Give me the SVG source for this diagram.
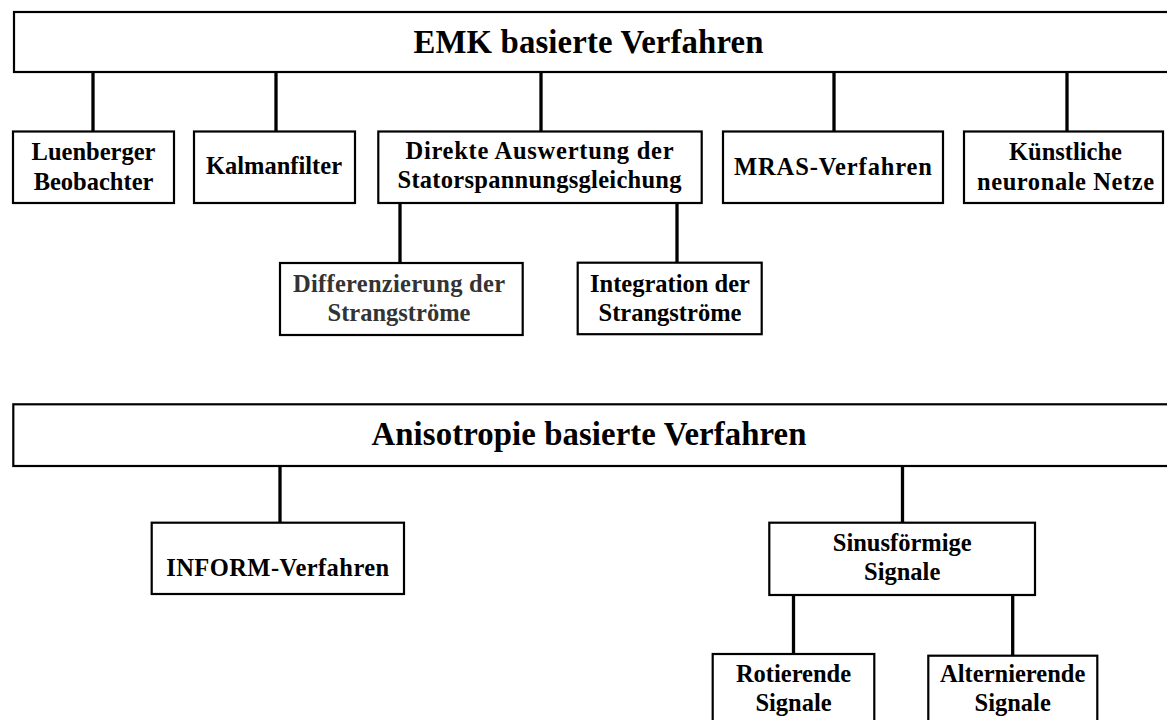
<svg xmlns="http://www.w3.org/2000/svg" width="1167" height="720" viewBox="0 0 1167 720">
<style>
.box{fill:#fff;stroke:#000;stroke-width:2.2}
.con{stroke:#000;stroke-width:3.3;fill:none}
text{font-family:"Liberation Serif","Times New Roman",serif;font-weight:bold;fill:#000;text-anchor:middle}
.t{font-size:24.5px}
.h{font-size:32.8px}
.g{fill:#333}
</style>
<rect width="1167" height="720" fill="#fff"/>
<g id="connectors">
<line class="con" x1="93" y1="72" x2="93" y2="132"/>
<line class="con" x1="276" y1="72" x2="276" y2="132"/>
<line class="con" x1="541" y1="72" x2="541" y2="132"/>
<line class="con" x1="834" y1="72" x2="834" y2="132"/>
<line class="con" x1="1067" y1="72" x2="1067" y2="132"/>
<line class="con" x1="400" y1="203" x2="400" y2="263"/>
<line class="con" x1="677" y1="203" x2="677" y2="263"/>
<line class="con" x1="280" y1="466" x2="280" y2="523"/>
<line class="con" x1="902.5" y1="466" x2="902.5" y2="523"/>
<line class="con" x1="793.5" y1="595" x2="793.5" y2="654"/>
<line class="con" x1="1012.7" y1="595" x2="1012.7" y2="656"/>
</g>
<g id="emk">
<rect class="box" x="14" y="12" width="1170" height="60"/>
<text class="h" x="588.5" y="53.3" textLength="350" lengthAdjust="spacing">EMK basierte Verfahren</text>
</g>
<g id="luenberger">
<rect class="box" x="13" y="131.5" width="161" height="71.5"/>
<text class="t" x="93.5" y="159.7">Luenberger</text>
<text class="t" x="93.5" y="189.7">Beobachter</text>
</g>
<g id="kalman">
<rect class="box" x="194" y="131.5" width="161" height="71.5"/>
<text class="t" x="274" y="174.3">Kalmanfilter</text>
</g>
<g id="direkte">
<rect class="box" x="378.3" y="131.5" width="323.4" height="71.5"/>
<text class="t" x="539.5" y="158.5" textLength="268" lengthAdjust="spacing">Direkte Auswertung der</text>
<text class="t" x="539.5" y="188.3" textLength="284" lengthAdjust="spacing">Statorspannungsgleichung</text>
</g>
<g id="mras">
<rect class="box" x="723" y="131.5" width="220" height="71.5"/>
<text class="t" x="833" y="174.8" textLength="198" lengthAdjust="spacing">MRAS-Verfahren</text>
</g>
<g id="knn">
<rect class="box" x="964" y="131.5" width="199" height="71.5"/>
<text class="t" x="1065.5" y="159.5">Künstliche</text>
<text class="t" x="1065.5" y="189.8" textLength="177" lengthAdjust="spacing">neuronale Netze</text>
</g>
<g id="diff">
<rect class="box" x="280" y="263" width="242.7" height="72"/>
<text class="t g" x="399" y="291.7" textLength="212" lengthAdjust="spacing">Differenzierung der</text>
<text class="t g" x="399" y="320.7">Strangströme</text>
</g>
<g id="integ">
<rect class="box" x="577.7" y="262.7" width="184" height="71.5"/>
<text class="t" x="670" y="291.5">Integration der</text>
<text class="t" x="670" y="320.5">Strangströme</text>
</g>
<g id="aniso">
<rect class="box" x="13.3" y="404.3" width="1170" height="61.7"/>
<text class="h" x="589" y="445" textLength="435" lengthAdjust="spacing">Anisotropie basierte Verfahren</text>
</g>
<g id="inform">
<rect class="box" x="151.7" y="522.7" width="252.3" height="71.3"/>
<text class="t" x="277.7" y="576.3" textLength="223" lengthAdjust="spacing">INFORM-Verfahren</text>
</g>
<g id="sinus">
<rect class="box" x="769.3" y="522.7" width="265.7" height="72.3"/>
<text class="t" x="902.2" y="550.7">Sinusförmige</text>
<text class="t" x="902.2" y="580">Signale</text>
</g>
<g id="rotierende">
<rect class="box" x="712.7" y="654" width="161.6" height="80"/>
<text class="t" x="793.5" y="681.7">Rotierende</text>
<text class="t" x="793.5" y="711">Signale</text>
</g>
<g id="alternierende">
<rect class="box" x="928.3" y="655.7" width="169" height="80"/>
<text class="t" x="1012.7" y="681.7">Alternierende</text>
<text class="t" x="1012.7" y="711">Signale</text>
</g>
</svg>
